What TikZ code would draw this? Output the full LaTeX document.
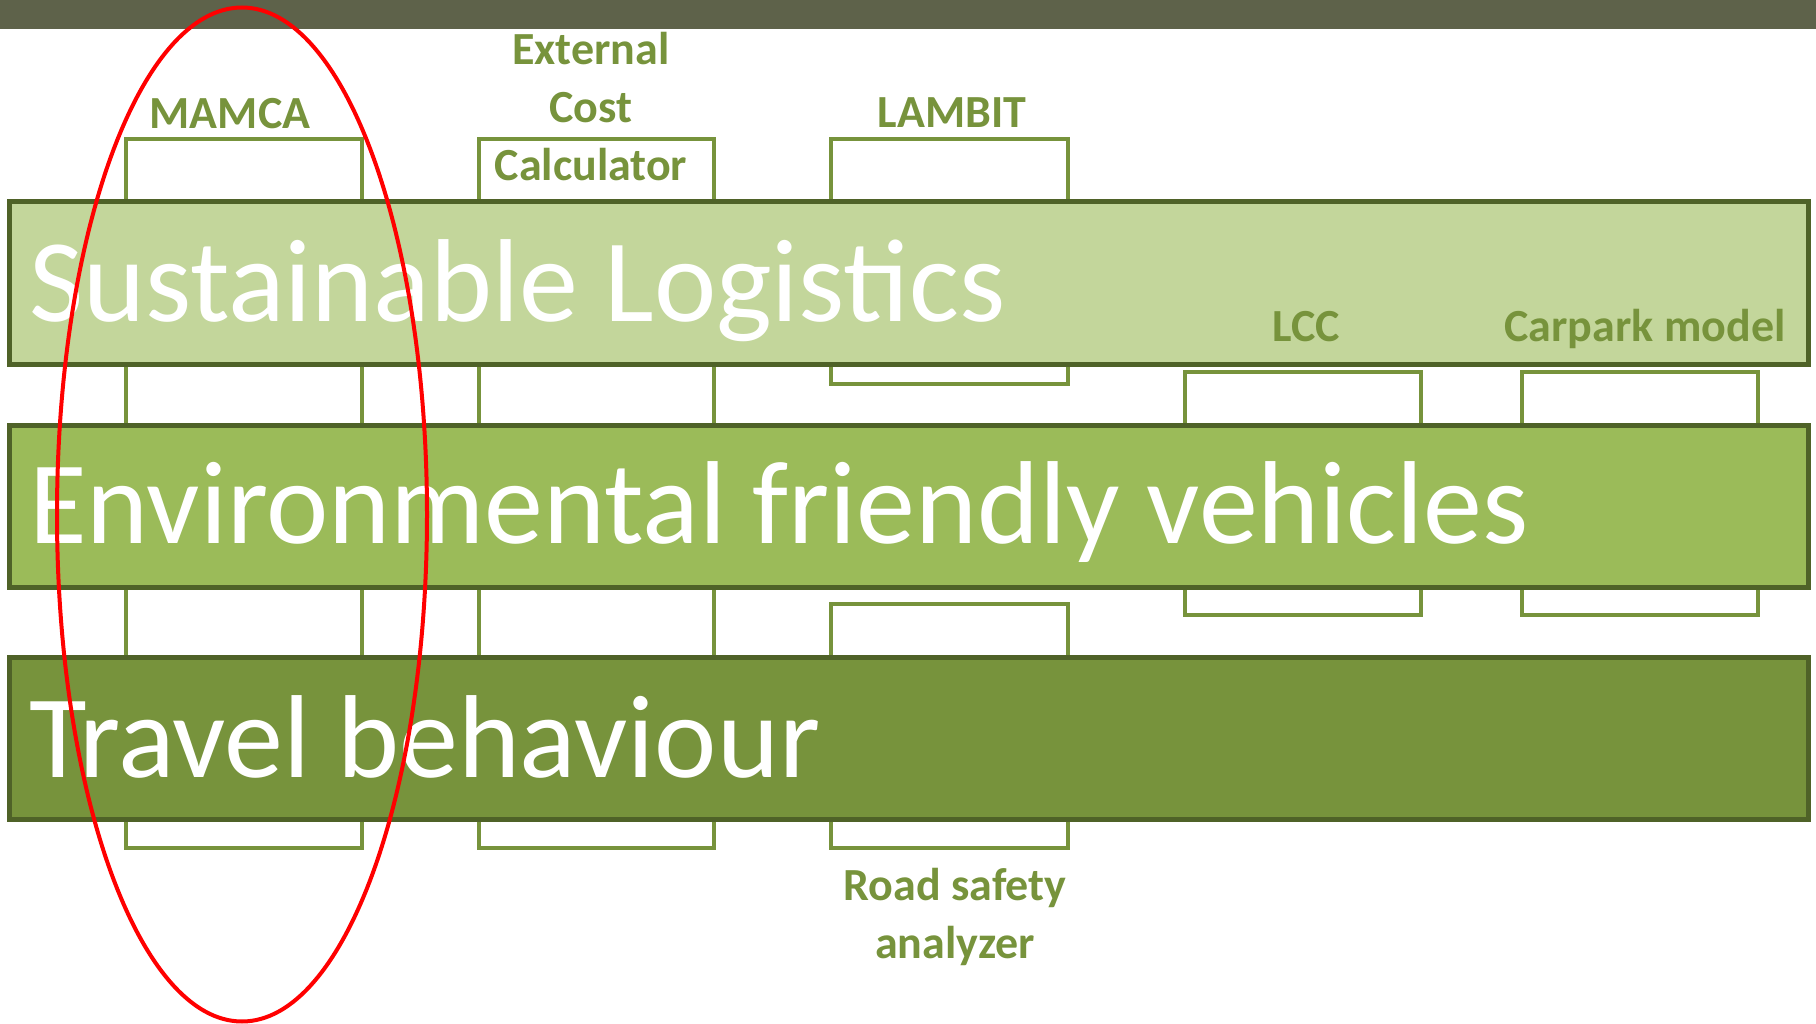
\documentclass[tikz,border=0pt]{standalone}
\usepackage{fontspec}
\setmainfont{Carlito}
\usetikzlibrary{positioning}

\definecolor{barGray}{RGB}{94,98,74}
\definecolor{lightGreen}{RGB}{195,214,155}
\definecolor{midGreen}{RGB}{155,187,89}
\definecolor{darkGreen}{RGB}{119,147,60}
\definecolor{edgeGreen}{RGB}{79,98,40}

\tikzset{
  tool/.style={draw=darkGreen, line width=4pt},
  band/.style={draw=edgeGreen, line width=5pt},
  bandtext/.style={anchor=base west, inner sep=0pt, text=white,
    font=\fontsize{118}{141}\selectfont},
  toolname/.style={anchor=base, inner sep=0pt, text=darkGreen, align=center,
    font=\fontsize{46}{58}\selectfont\bfseries}
}

\begin{document}
\begin{tikzpicture}[x=1pt, y=-1pt]
\useasboundingbox (0,0) rectangle (1816,1024);

% Top bar
\fill[barGray] (0,0) rectangle (1816,29);

% Tool pillars
\draw[tool] (126,139) rectangle (362,848);   % MAMCA
\draw[tool] (479,139) rectangle (714,848);   % External cost calculator
\draw[tool] (831,139) rectangle (1068,384);  % LAMBIT
\draw[tool] (1185,372) rectangle (1421,615); % LCC
\draw[tool] (1522,372) rectangle (1758,615); % Carpark model
\draw[tool] (831,604) rectangle (1068,848);  % Road safety analyzer

% Research bands
\filldraw[band, fill=lightGreen] (9,202) rectangle (1808,365);
\node[bandtext] (logistics) at (29,322) {Sustainable Logistics};

\filldraw[band, fill=midGreen] (9,425) rectangle (1808,587);
\node[bandtext] (vehicles) at (29,543) {Environmental friendly vehicles};

\filldraw[band, fill=darkGreen] (9,657) rectangle (1808,819);
\node[bandtext] (travel) at (29,777) {Travel behaviour};

% Tool names (base = last line)
\node[toolname] (mamca) at (230,129) {MAMCA};
\node[toolname] (ecc) at (591,181) {External\\Cost\\Calculator};
\node[toolname] (lambit) at (952,128) {LAMBIT};
\node[toolname] (lcc) at (1306,342) {LCC};
\node[toolname] (carpark) at (1645,342) {Carpark model};
\node[toolname] (roadsafety) at (955,958) {Road safety\\analyzer};

% Highlight
\draw[red, line width=4pt] (242,514.5) ellipse [x radius=185pt, y radius=507pt];
\end{tikzpicture}
\end{document}
